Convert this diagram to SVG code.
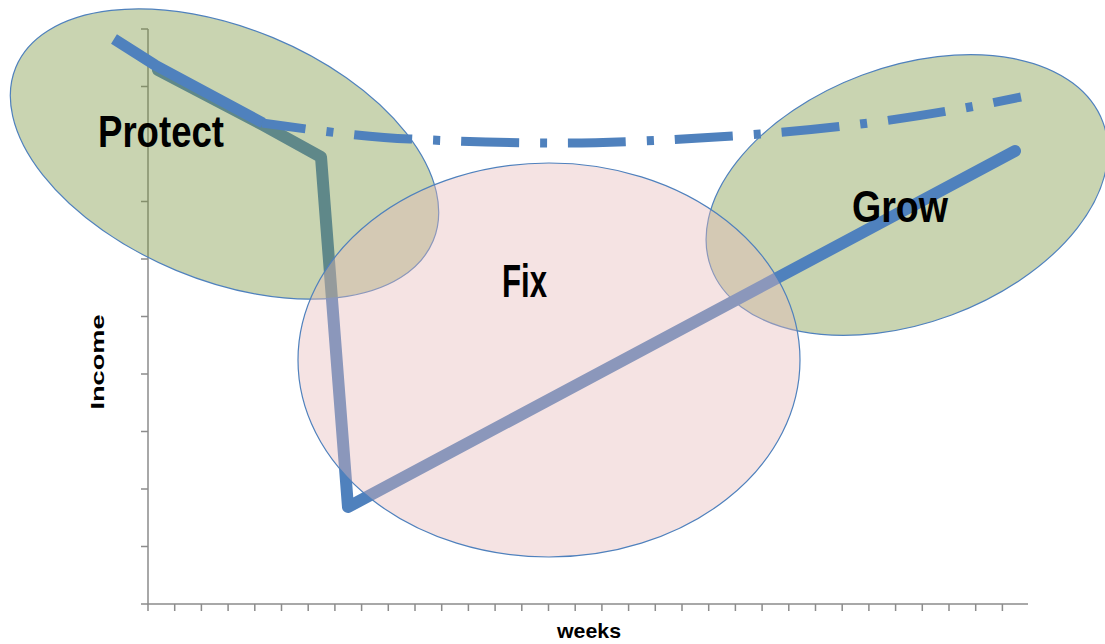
<svg xmlns="http://www.w3.org/2000/svg" width="1105" height="644" viewBox="0 0 1105 644">
<style>
.axis{stroke:#8c8c8c;stroke-width:1.5;fill:none}
.green{fill:#77933c;fill-opacity:0.4;stroke:#4f81bd;stroke-width:1.2}
.pink{fill:#e6b9b8;fill-opacity:0.4;stroke:#4f81bd;stroke-width:1.2}
.series{fill:none;stroke:#4f81bd;stroke-linejoin:round}
.lbl{font-family:"Liberation Sans",Arial,sans-serif;font-weight:bold;fill:#000}
</style>
<rect width="1105" height="644" fill="#ffffff"/>
<g id="axes">
<path class="axis" d="M148,29V604H1028"/>
<path class="axis" d="M141,29H148M141,86.5H148M141,144H148M141,201.5H148M141,259H148M141,316.5H148M141,374H148M141,431.5H148M141,489H148M141,546.5H148M141,604H148"/>
<path class="axis" d="M148,604v7M174.7,604v7M201.4,604v7M228.1,604v7M254.8,604v7M281.5,604v7M308.2,604v7M334.9,604v7M361.6,604v7M388.3,604v7M415,604v7M441.7,604v7M468.4,604v7M495.1,604v7M521.8,604v7M548.5,604v7M575.2,604v7M601.9,604v7M628.6,604v7M655.3,604v7M682,604v7M708.7,604v7M735.4,604v7M762.1,604v7M788.8,604v7M815.5,604v7M842.2,604v7M868.9,604v7M895.6,604v7M922.3,604v7M949,604v7M975.7,604v7M1002.4,604v7"/>
<text class="lbl" x="589" y="638" font-size="21" text-anchor="middle" textLength="64" lengthAdjust="spacingAndGlyphs">weeks</text>
<text class="lbl" transform="translate(104,362) rotate(-90)" font-size="19" text-anchor="middle" textLength="95" lengthAdjust="spacingAndGlyphs">Income</text>
</g>
<g id="grow">
<ellipse class="green" cx="907" cy="195" rx="209" ry="128" transform="rotate(-20.4 907 195)"/>
</g>
<g id="connectors">
<path id="seriesB" class="series" stroke-width="12" stroke-linecap="round" d="M158,70L263,125L321,157L348,507L1015,151"/>
</g>
<g id="protect">
<ellipse class="green" cx="224.5" cy="154" rx="226" ry="126" transform="rotate(22.6 224.5 154)"/>
</g>
<g id="fix">
<ellipse class="pink" cx="549" cy="360" rx="251" ry="197"/>
</g>
<g id="connectors-top">
<path id="seriesA-solid" class="series" stroke-width="11" stroke-linecap="butt" d="M114,39L155,65L263,123"/>
<path id="seriesA-dash" class="series" stroke-width="9" stroke-linejoin="miter" stroke-dasharray="58 21 7 21" stroke-dashoffset="14" d="M262,123C300,128 360,137 410,139C470,142 520,143 560,143C620,143 690,139 760,134C840,128 920,118 1021,97"/>
</g>
<g id="labels">
<text class="lbl" x="98" y="147" font-size="45" textLength="126" lengthAdjust="spacingAndGlyphs">Protect</text>
<text class="lbl" x="502" y="297" font-size="46" textLength="45" lengthAdjust="spacingAndGlyphs">Fix</text>
<text class="lbl" x="852" y="222" font-size="45" textLength="96" lengthAdjust="spacingAndGlyphs">Grow</text>
</g>
</svg>
